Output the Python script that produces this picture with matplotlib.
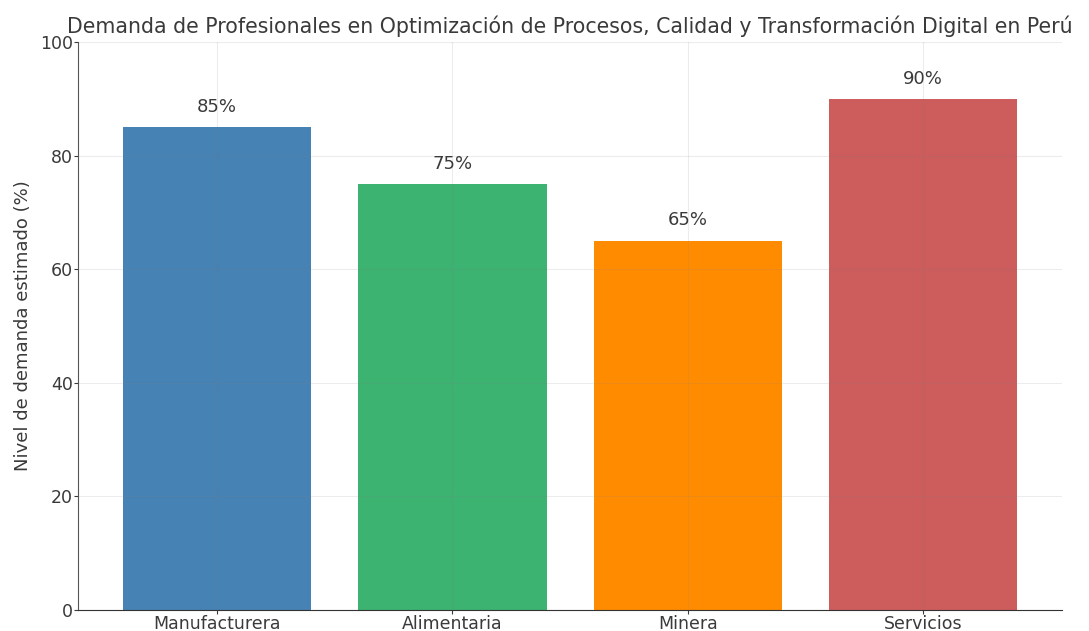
import matplotlib.pyplot as plt

# sectors and estimated demand
sectores = ['Manufacturera', 'Alimentaria', 'Minera', 'Servicios']
demanda = [85, 75, 65, 90]
colores = ['steelblue', 'mediumseagreen', 'darkorange', 'indianred']

fig, ax = plt.subplots(figsize=(10.89, 6.31), dpi=100)
bars = ax.bar(sectores, demanda, color=colores, width=0.8)

# percentage labels above each bar
for b, v in zip(bars, demanda):
    ax.text(b.get_x() + b.get_width() / 2, v + 2, str(v) + '%',
            ha='center', va='bottom', fontsize=13, color='#3a3a3a')

ax.set_ylim(0, 100)
ax.set_ylabel('Nivel de demanda estimado (%)', fontsize=13, color='#3a3a3a', labelpad=6)
ax.set_title('Demanda de Profesionales en Optimización de Procesos, Calidad y Transformación Digital en Perú',
             fontsize=14.8, color='#3a3a3a', pad=7)
ax.tick_params(labelsize=12.5, colors='#3a3a3a', length=3, pad=1)
ax.grid(True, color='gray', alpha=0.15, linewidth=0.8)
ax.spines['top'].set_visible(False)
ax.spines['right'].set_visible(False)
ax.spines['left'].set_color('#555555')
ax.spines['bottom'].set_color('#333333')

plt.subplots_adjust(left=0.072, right=0.975, top=0.933, bottom=0.034)
plt.savefig('out.png')
